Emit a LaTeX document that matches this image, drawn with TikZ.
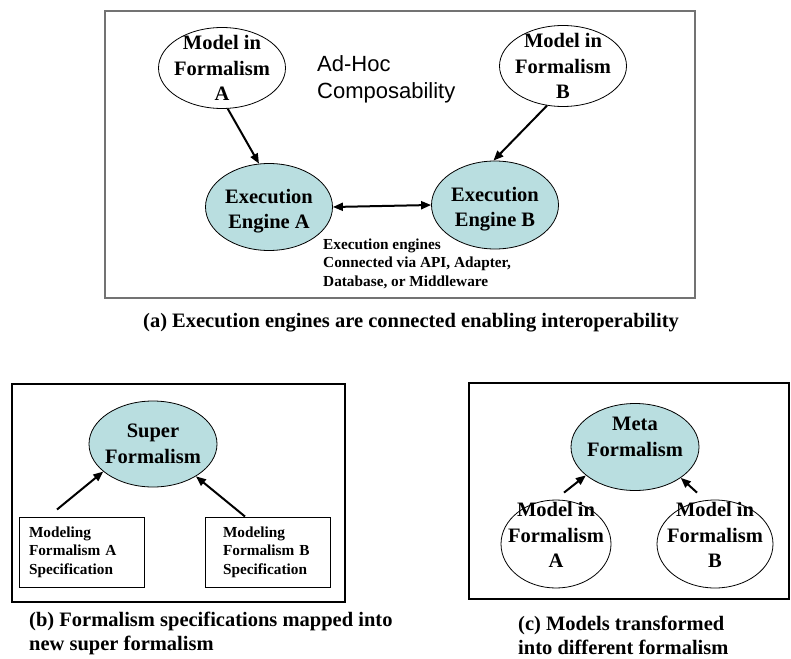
\documentclass[tikz,border=0pt]{standalone}
\usepackage{fontspec}
\setmainfont{Liberation Serif}
\setsansfont{Liberation Sans}
\usetikzlibrary{shapes, arrows, arrows.meta, positioning}

\definecolor{enginefill}{RGB}{185,222,224}

\tikzset{
  bigtxt/.style={font=\bfseries\fontsize{20.5}{25.5}\selectfont, align=center, inner sep=0pt},
  smalltxt/.style={font=\bfseries\fontsize{15.3}{18.5}\selectfont, align=left, inner sep=0pt},
  captxt/.style={font=\bfseries\fontsize{20.5}{23.5}\selectfont, align=left, inner sep=0pt},
  blob/.style={ellipse, draw, line width=0.8pt, inner sep=0pt},
  specbox/.style={rectangle, draw, line width=1pt, minimum width=125pt, minimum height=70pt,
    inner xsep=10pt, text width=105pt, align=left, font=\bfseries\fontsize{15.3}{18.5}\selectfont},
  frame/.style={draw, line width=1.3pt}
}

\begin{document}
\begin{tikzpicture}[x=1pt, y=-1pt, >={Triangle[length=10pt,width=8pt]}]
  \useasboundingbox (0,0) rectangle (791,658);

  % (a) engines talking to each other
  \draw[frame, draw=black!55, line width=2pt] (105,11) rectangle (695,298);
  \begin{scope}[every node/.style={blob, minimum width=127pt, minimum height=81pt}]
    \node[fill=white] (ma) at (222,68) {};
    \node[fill=white] (mb) at (563,66) {};
    \node[fill=enginefill, minimum height=87pt] (ea) at (269,207) {};
    \node[fill=enginefill, minimum height=88pt] (eb) at (495,205) {};
  \end{scope}
  \node[bigtxt] (mat) at (ma) {Model in\\Formalism\\A};
  \node[bigtxt] (mbt) at (mb) {Model in\\Formalism\\B};
  \node[bigtxt] (eat) at ([yshift=-4pt]ea.center) {Execution\\Engine A};
  \node[bigtxt] (ebt) at ([yshift=-4pt]eb.center) {Execution\\Engine B};
  % base of a multi-line node sits on its last line
  \node[font=\sffamily\fontsize{22}{27}\selectfont, align=left, inner sep=0pt, anchor=base west]
    (adhoc) at (317,99) {Ad-Hoc\\Composability};
  \node[smalltxt, anchor=base west] (via) at (323,286)
    {Execution engines\\Connected via API, Adapter,\\Database, or Middleware};
  \node[captxt, anchor=base] (capa) at (411,327)
    {(a) Execution engines are connected enabling interoperability};

  % (b) one super formalism
  \draw[frame] (12,384) rectangle (345,602);
  \node[blob, fill=enginefill, minimum width=128pt, minimum height=86pt] (sup) at (153,444) {};
  \node[bigtxt] (supt) at (sup) {Super\\Formalism};
  \node[specbox] (spa) at (81.5,552) {Modeling\\Formalism A\\Specification};
  \node[specbox, inner xsep=18pt, text width=89pt] (spb) at (267.5,552) {Modeling\\Formalism B\\Specification};
  \node[captxt, anchor=base west] (capb) at (29,650)
    {(b) Formalism specifications mapped into\\new super formalism};

  % (c) meta formalism
  \draw[frame] (469,383) rectangle (789,599);
  \begin{scope}[every node/.style={blob, minimum height=88pt}]
    \node[fill=enginefill, minimum width=128pt, minimum height=87pt] (meta) at (635,447) {};
    \node[fill=white, minimum width=110pt] (ca) at (556,544) {};
    \node[fill=white, minimum width=116pt] (cb) at (715,544) {};
  \end{scope}
  \node[bigtxt] (metat) at ([yshift=10pt]meta.center) {Meta\\Formalism};
  \node[bigtxt] (cat) at ([yshift=9pt]ca.center) {Model in\\Formalism\\A};
  \node[bigtxt] (cbt) at ([yshift=9pt]cb.center) {Model in\\Formalism\\B};
  \node[captxt, anchor=base west] (capc) at (518,654)
    {(c) Models transformed\\into different formalism};

  \begin{scope}[every edge/.style={draw=black, line width=2pt, ->}]
    \path (ma.278) edge (ea.103);
    \path (mb.248) edge (eb.92);
    \path (ea.east) edge[<->] (eb.west);
    \path ([xshift=-24.5pt,yshift=7pt]spa.north) edge (sup.209);
    \path ([xshift=-22.5pt]spb.north) edge (sup.323);
    \path ([xshift=8pt,yshift=7pt]ca.north) edge (meta.210);
    \path ([xshift=-18pt,yshift=7pt]cb.north) edge (meta.326);
  \end{scope}
\end{tikzpicture}
\end{document}
